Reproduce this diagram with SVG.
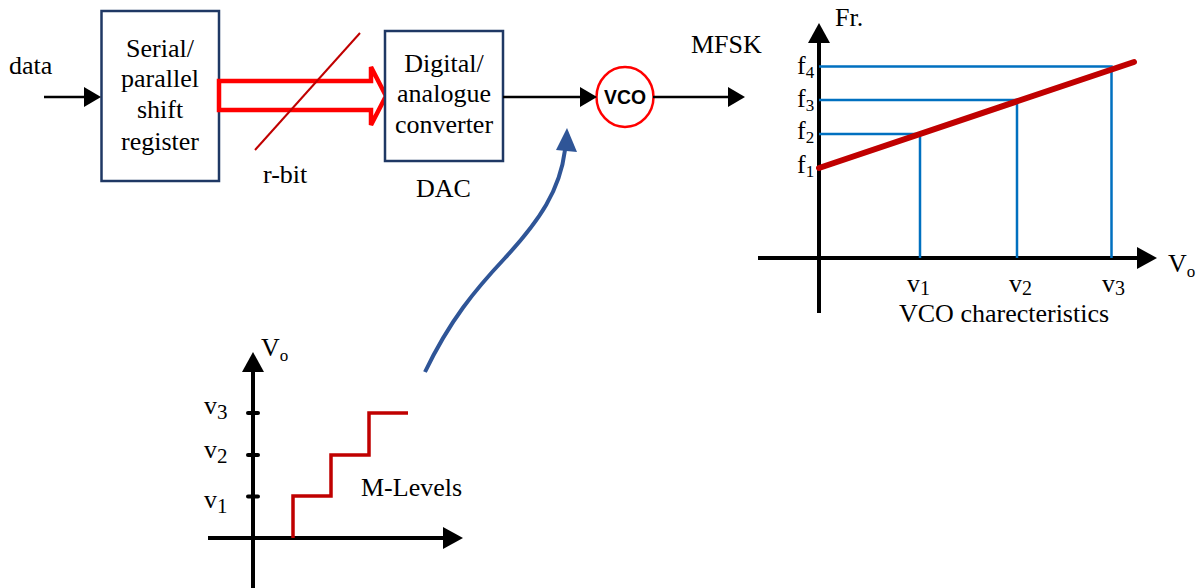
<svg xmlns="http://www.w3.org/2000/svg" width="1203" height="588" viewBox="0 0 1203 588">
<style>
.t{font-family:"Liberation Serif","Times New Roman",serif;fill:#000;font-size:26px}
.c{text-anchor:middle}
.box{fill:#fff;stroke:#1f3864;stroke-width:2.5}
.wire{stroke:#000;stroke-width:2.5;fill:none}
.axis{stroke:#000;stroke-width:4;fill:none}
.guide{stroke:#0070c0;stroke-width:2.5;fill:none}
.dred{stroke:#c00000;fill:none}
</style>
<defs>
<marker id="ah" viewBox="0 0 17 20" refX="0" refY="10" markerWidth="17" markerHeight="20" markerUnits="userSpaceOnUse" orient="auto">
<path d="M0,0 L17,10 L0,20 Z" fill="#000"/>
</marker>
<marker id="ax" viewBox="0 0 20 22" refX="0" refY="11" markerWidth="20" markerHeight="22" markerUnits="userSpaceOnUse" orient="auto">
<path d="M0,0 L20,11 L0,22 Z" fill="#000"/>
</marker>
</defs>
<rect width="1203" height="588" fill="#fff"/>

<g id="data-label"><text class="t" x="9" y="74">data</text></g>

<g id="serial-parallel">
<rect class="box" x="101.5" y="11" width="117.5" height="170"/>
<text class="t c" x="160" y="57">Serial/</text>
<text class="t c" x="160" y="87">parallel</text>
<text class="t c" x="160" y="118">shift</text>
<text class="t c" x="160" y="150">register</text>
</g>

<g id="rbit-bus">
<path d="M219,81 L371,81 L371,67 L386,96 L371,125 L371,110 L219,110 Z" fill="#fff" stroke="#ff0000" stroke-width="4.5" stroke-linejoin="miter"/>
<line x1="360" y1="33" x2="255" y2="150" stroke="#c00000" stroke-width="2"/>
<text class="t" x="263" y="183">r-bit</text>
</g>

<g id="dac">
<rect class="box" x="385" y="31" width="118" height="130"/>
<text class="t c" x="444" y="72">Digital/</text>
<text class="t c" x="444" y="102">analogue</text>
<text class="t c" x="444" y="133">converter</text>
<text class="t" x="416" y="197">DAC</text>
</g>

<g id="vco">
<ellipse cx="625" cy="97" rx="28.5" ry="30" fill="#fff" stroke="#ff0000" stroke-width="2.5"/>
<text x="625" y="104" text-anchor="middle" font-family="'Liberation Sans',Arial,sans-serif" font-weight="bold" font-size="21" textLength="42" lengthAdjust="spacingAndGlyphs">VCO</text>
</g>

<g id="mfsk-label"><text class="t" x="691" y="53">MFSK</text></g>

<g id="connectors">
<line class="wire" x1="44" y1="97" x2="84" y2="97" marker-end="url(#ah)"/>
<line class="wire" x1="503" y1="97" x2="580" y2="97" marker-end="url(#ah)"/>
<line class="wire" x1="653" y1="97" x2="728" y2="97" marker-end="url(#ah)"/>
<path d="M425,372 C450,320 475,290 505,258 C540,220 560,190 565,150" fill="none" stroke="#2f5597" stroke-width="4"/>
<polygon points="567,128 556,150 577,152" fill="#2f5597"/>
</g>

<g id="vco-characteristics">
<line class="axis" x1="819" y1="313" x2="819" y2="43" marker-end="url(#ax)"/>
<line class="axis" x1="758" y1="258" x2="1137" y2="258" marker-end="url(#ax)"/>
<polyline class="guide" points="819,66.5 1111.5,66.5 1111.5,258"/>
<polyline class="guide" points="819,100 1017,100 1017,258"/>
<polyline class="guide" points="819,134 920,134 920,258"/>
<line x1="819" y1="168" x2="1134" y2="62" stroke="#c00000" stroke-width="6" stroke-linecap="round"/>
<text class="t" x="835" y="26" font-size="23">Fr.</text>
<text class="t" x="797" y="74" font-size="25">f<tspan font-size="17" dy="4">4</tspan></text>
<text class="t" x="797" y="107" font-size="25">f<tspan font-size="17" dy="4">3</tspan></text>
<text class="t" x="797" y="139" font-size="25">f<tspan font-size="17" dy="4">2</tspan></text>
<text class="t" x="797" y="173" font-size="25">f<tspan font-size="17" dy="4">1</tspan></text>
<text class="t" x="907" y="292" font-size="32">v<tspan font-size="20" dy="3">1</tspan></text>
<text class="t" x="1009" y="292" font-size="32">v<tspan font-size="20" dy="3">2</tspan></text>
<text class="t" x="1102" y="292" font-size="32">v<tspan font-size="20" dy="3">3</tspan></text>
<text class="t" x="1168" y="272" font-size="24">V<tspan font-size="17" dy="5">o</tspan></text>
<text class="t" x="899" y="322">VCO charecteristics</text>
</g>

<g id="m-levels">
<line class="axis" x1="253" y1="588" x2="253" y2="372" marker-end="url(#ax)"/>
<line class="axis" x1="208" y1="538" x2="443" y2="538" marker-end="url(#ax)"/>
<g stroke="#000" stroke-width="4" stroke-linecap="round">
<line x1="248" y1="413" x2="258" y2="413"/>
<line x1="248" y1="455" x2="258" y2="455"/>
<line x1="248" y1="496.5" x2="258" y2="496.5"/>
</g>
<polyline class="dred" stroke-width="3.5" points="293,538 293,496 331,496 331,455 369,455 369,413 408,413"/>
<text class="t" x="204" y="414" font-size="34">v<tspan font-size="21" dy="5">3</tspan></text>
<text class="t" x="204" y="458" font-size="34">v<tspan font-size="21" dy="5">2</tspan></text>
<text class="t" x="204" y="508" font-size="34">v<tspan font-size="21" dy="5">1</tspan></text>
<text class="t" x="261" y="356" font-size="25">V<tspan font-size="17" dy="5">o</tspan></text>
<text class="t" x="361" y="496" font-size="23">M-Levels</text>
</g>
</svg>
